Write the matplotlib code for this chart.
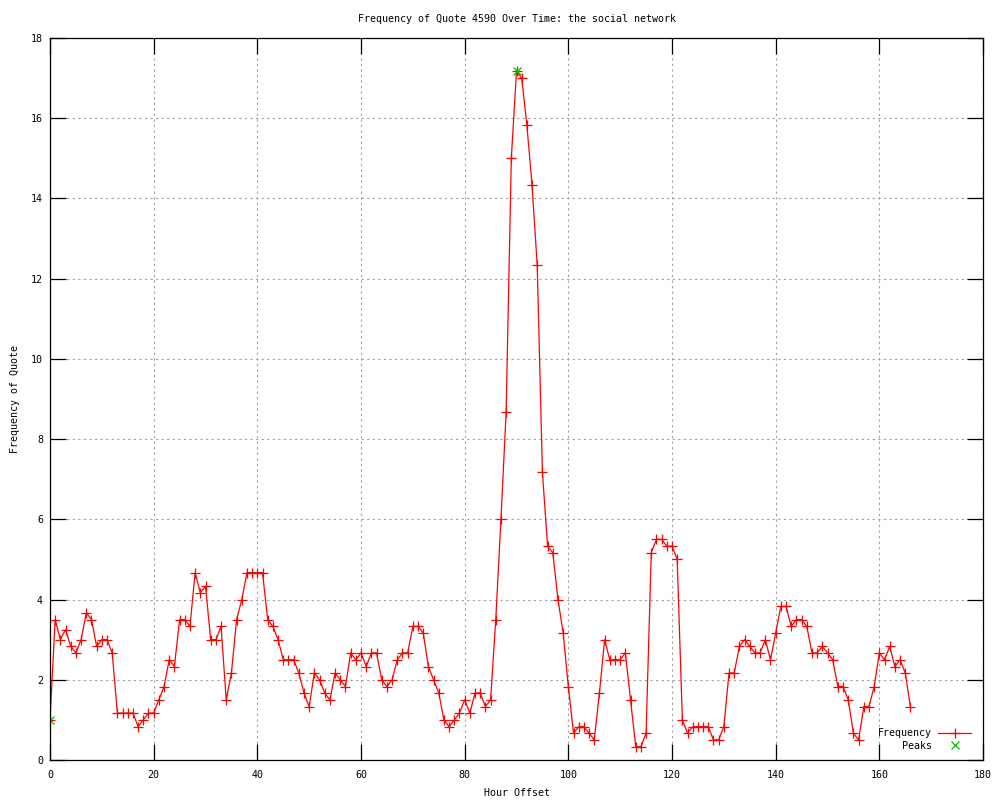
import matplotlib
matplotlib.use("Agg")
import matplotlib.pyplot as plt
import numpy as np

hours = list(range(0, 167))
frequency = [
    1.0, 3.5, 3.0, 3.25, 2.83, 2.67, 3.0, 3.67, 3.5, 2.83,
    3.0, 3.0, 2.67, 1.17, 1.17, 1.17, 1.17, 0.83, 1.0, 1.17,
    1.17, 1.5, 1.83, 2.5, 2.33, 3.5, 3.5, 3.33, 4.67, 4.17,
    4.33, 3.0, 3.0, 3.33, 1.5, 2.17, 3.5, 4.0, 4.67, 4.67,
    4.67, 4.67, 3.5, 3.33, 3.0, 2.5, 2.5, 2.5, 2.17, 1.67,
    1.33, 2.17, 2.0, 1.67, 1.5, 2.17, 2.0, 1.83, 2.67, 2.5,
    2.67, 2.33, 2.67, 2.67, 2.0, 1.83, 2.0, 2.5, 2.67, 2.67,
    3.33, 3.33, 3.17, 2.33, 2.0, 1.67, 1.0, 0.83, 1.0, 1.17,
    1.5, 1.17, 1.67, 1.67, 1.33, 1.5, 3.5, 6.0, 8.67, 15.0,
    17.17, 17.0, 15.83, 14.33, 12.33, 7.17, 5.33, 5.17, 4.0, 3.17,
    1.83, 0.67, 0.83, 0.83, 0.67, 0.5, 1.67, 3.0, 2.5, 2.5,
    2.5, 2.67, 1.5, 0.33, 0.33, 0.67, 5.17, 5.5, 5.5, 5.33,
    5.33, 5.0, 1.0, 0.67, 0.83, 0.83, 0.83, 0.83, 0.5, 0.5,
    0.83, 2.17, 2.17, 2.83, 3.0, 2.83, 2.67, 2.67, 3.0, 2.5,
    3.17, 3.83, 3.83, 3.33, 3.5, 3.5, 3.33, 2.67, 2.67, 2.83,
    2.67, 2.5, 1.83, 1.83, 1.5, 0.67, 0.5, 1.33, 1.33, 1.83,
    2.67, 2.5, 2.83, 2.33, 2.5, 2.17, 1.33,
]
peak_hours = [0, 90]
peak_values = [1.0, 17.17]

x_ticks = list(range(0, 181, 20))
y_ticks = list(range(0, 19, 2))

title = "Frequency of Quote 4590 Over Time: the social network"
xlabel = "Hour Offset"
ylabel = "Frequency of Quote"

FONT = "DejaVu Sans Mono"
FS = 7.2
plt.rcParams['font.family'] = [FONT]
plt.rcParams['font.size'] = FS

fig = plt.figure(figsize=(10, 8), dpi=100)
ax = fig.add_axes([0.050, 0.050, 0.933, 0.9025])

ax.plot(hours, frequency, color='#ff0000', linewidth=0.9, marker='+',
        markersize=7.5, markeredgewidth=0.9, label='Frequency')
ax.plot(peak_hours, peak_values, linestyle='none', color='#00c000', marker='x',
        markersize=5.5, markeredgewidth=0.9, label='    Peaks')

ax.set_xlim(0, 180)
ax.set_ylim(0, 18)
ax.set_xticks(x_ticks)
ax.set_yticks(y_ticks)
ax.grid(True, color='#a0a0a0', linestyle=(0, (2, 3)), linewidth=0.8)
ax.set_axisbelow(True)

ax.tick_params(direction='in', length=11.5, width=0.9, top=True, right=True,
               labelsize=FS, color='black')
ax.tick_params(axis='x', pad=7)
ax.tick_params(axis='y', pad=5)
for s in ax.spines.values():
    s.set_linewidth(0.9)
    s.set_color('black')

ax.set_title(title, fontsize=FS, pad=11.5)
ax.set_xlabel(xlabel, fontsize=FS, labelpad=6)
ax.set_ylabel(ylabel, fontsize=FS, labelpad=8)

leg = ax.legend(loc='lower right', bbox_to_anchor=(1.0, -0.004),
                frameon=False, markerfirst=False,
                numpoints=1, handlelength=3.3, handletextpad=0.6,
                labelspacing=0.25, borderaxespad=0.8, prop={'family': FONT, 'size': FS})

fig.savefig("out.png", dpi=100)
